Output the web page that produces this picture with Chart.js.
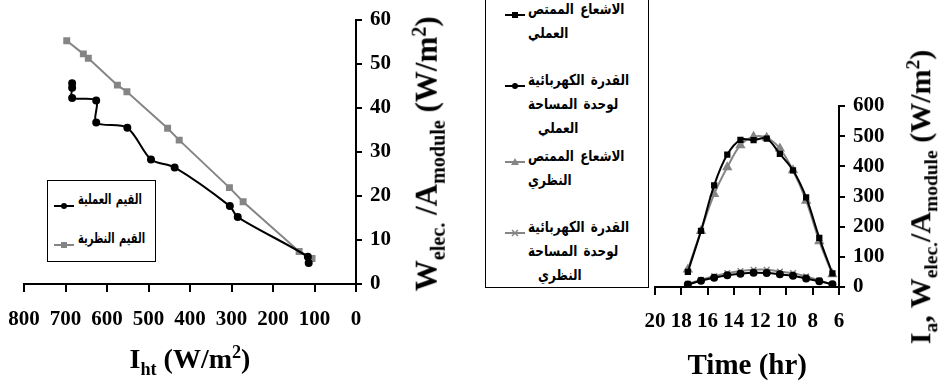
<!DOCTYPE html>
<html lang="ar">
<head>
<meta charset="UTF-8">
<title>Charts</title>
<script src="https://cdn.jsdelivr.net/npm/chart.js"></script>
<style>
    body { margin: 0; background: #fff; }
    #wrap { position: relative; width: 939px; height: 385px; overflow: hidden; background: #fff; }
    .box { position: absolute; }
    .title { position: absolute; font-family: "Liberation Serif", serif; font-weight: bold; color: #000; white-space: nowrap; }
    .title sub, .title sup { font-size: 65%; }
    .legend { position: absolute; border: 1px solid #000; background: #fff; }
    .leg-line { position: absolute; font-family: "DejaVu Sans", sans-serif; font-weight: bold; font-size: 12px;
                direction: rtl; white-space: nowrap; word-spacing: 2px; color: #000;
                transform: scaleY(1.25); transform-origin: left center; }
    #leg1 .leg-line { font-size: 11px; word-spacing: 1px; transform: scale(0.9, 1.35); }
    .leg-mark { position: absolute; }
</style>
</head>
<body>
<div id="wrap">
    <div class="box" style="left:0;top:0;width:470px;height:385px"><canvas id="grafico1"></canvas></div>
    <div class="box" style="left:470px;top:0;width:469px;height:385px"><canvas id="grafico2"></canvas></div>

    <div class="title" id="tx1" style="font-size:28px;">I<sub>ht</sub> (W/m<sup>2</sup>)</div>
    <div class="title" id="ty1" style="font-size:31px;">W<sub>elec.</sub> /A<sub>module</sub> (W/m<sup>2</sup>)</div>
    <div class="title" id="tx2" style="font-size:29px;">Time (hr)</div>
    <div class="title" id="ty2" style="font-size:30px;">I<sub>a</sub>, W<sub>elec.</sub>/A<sub>module</sub> (W/m<sup>2</sup>)</div>

    <div class="legend" id="leg1" style="left:47px;top:180px;width:107px;height:80px"></div>
    <div class="legend" id="leg2" style="left:485px;top:-5px;width:162px;height:291px"></div>
</div>

<script>
// left chart: power per module area vs absorbed radiation
var iExp = [684, 684, 684, 626, 626, 551, 494, 437, 304, 285, 116, 114];
var wExp = [45.6, 44.6, 42.3, 41.7, 36.7, 35.5, 28.3, 26.5, 17.7, 15.2, 6.2, 4.8];
var iTheo = [697, 657, 645, 575, 552, 454, 426, 305, 272, 137, 106];
var wTheo = [55.3, 52.3, 51.3, 45.2, 43.7, 35.4, 32.7, 21.9, 18.7, 7.4, 5.8];
var nomesEsq = ['القيم العملية', 'القيم النظرية'];

// right chart: radiation and power over the day
var horas = [17.5, 16.5, 15.5, 14.5, 13.5, 12.5, 11.5, 10.5, 9.5, 8.5, 7.5, 6.5];
var iaExp = [50, 186, 337, 439, 488, 487, 492, 441, 387, 297, 163, 45];
var iaTheo = [58, 186, 308, 397, 470, 498, 495, 459, 387, 286, 152, 42];
var wExpR = [8, 21, 31, 39, 44, 47, 46, 42, 37, 28, 19, 9];
var wTheoR = [10, 24, 36, 46, 53, 57, 57, 51, 46, 35, 22, 8];
var nomesDir = [
    ['الاشعاع الممتص', 'العملي'],
    ['القدرة الكهربائية', 'لوحدة المساحة', 'العملي'],
    ['الاشعاع الممتص', 'النظري'],
    ['القدرة الكهربائية', 'لوحدة المساحة', 'النظري']
];

var cinza = '#858585';

function pares(xs, ys) {
    return xs.map(function (x, i) { return { x: x, y: ys[i] }; });
}

var fonteTicks = { family: 'Liberation Serif', weight: 'bold', size: 21 };

function eixoX(min, max, passo, altura, pad) {
    return {
        type: 'linear', min: min, max: max, reverse: true,
        afterFit: function (s) { s.height = altura; s.paddingLeft = 0; s.paddingRight = 0; },
        ticks: { stepSize: passo, color: '#000', font: fonteTicks, padding: pad, maxRotation: 0, autoSkip: false },
        grid: { drawOnChartArea: false, drawTicks: true, tickLength: 8, color: '#000', lineWidth: 2 },
        border: { display: true, color: '#000', width: 2 }
    };
}

function eixoY(min, max, passo, largura) {
    return {
        type: 'linear', position: 'right', min: min, max: max,
        afterFit: function (s) { s.width = largura; s.paddingTop = 0; s.paddingBottom = 0; },
        ticks: { stepSize: passo, color: '#000', font: fonteTicks, padding: 8 },
        grid: { drawOnChartArea: false, drawTicks: true, tickLength: 6, color: '#000', lineWidth: 2 },
        border: { display: true, color: '#000', width: 2 }
    };
}

var base = {
    responsive: true,
    maintainAspectRatio: false,
    animation: false,
    plugins: { legend: { display: false }, tooltip: { enabled: false } }
};

// Gráfico esquerdo
var grafico1 = new Chart(document.getElementById('grafico1'), {
    type: 'scatter',
    data: {
        datasets: [
            {
                label: nomesEsq[0], data: pares(iExp, wExp), showLine: true, tension: 0.3,
                borderColor: '#000', backgroundColor: '#000', borderWidth: 2,
                pointStyle: 'circle', pointRadius: 3
            },
            {
                label: nomesEsq[1], data: pares(iTheo, wTheo), showLine: true, tension: 0,
                borderColor: cinza, backgroundColor: cinza, borderWidth: 2,
                pointStyle: 'rect', pointRadius: 3.5
            }
        ]
    },
    options: Object.assign({}, base, {
        layout: { padding: { left: 24, top: 20, right: 0, bottom: 0 } },
        scales: {
            x: eixoX(0, 800, 100, 101, 15),
            y: eixoY(0, 60, 10, 114)
        }
    })
});

// Gráfico direito
var grafico2 = new Chart(document.getElementById('grafico2'), {
    type: 'scatter',
    data: {
        datasets: [
            {
                label: nomesDir[0].join(' '), data: pares(horas, iaExp), showLine: true, tension: 0.35,
                borderColor: '#000', backgroundColor: '#000', borderWidth: 2,
                pointStyle: 'rect', pointRadius: 3
            },
            {
                label: nomesDir[1].join(' '), data: pares(horas, wExpR), showLine: true, tension: 0.35,
                borderColor: '#000', backgroundColor: '#000', borderWidth: 2,
                pointStyle: 'circle', pointRadius: 3
            },
            {
                label: nomesDir[2].join(' '), data: pares(horas, iaTheo), showLine: true, tension: 0.35,
                borderColor: cinza, backgroundColor: cinza, borderWidth: 2,
                pointStyle: 'triangle', pointRadius: 4
            },
            {
                label: nomesDir[3].join(' '), data: pares(horas, wTheoR), showLine: true, tension: 0.35,
                borderColor: cinza, backgroundColor: cinza, borderWidth: 2,
                pointStyle: 'crossRot', pointRadius: 4, pointBorderWidth: 1.5
            }
        ]
    },
    options: Object.assign({}, base, {
        layout: { padding: { left: 185, top: 106, right: 0, bottom: 0 } },
        scales: {
            x: eixoX(6, 20, 2, 98, 14),
            y: eixoY(0, 600, 100, 100)
        }
    })
});

// legend sample: short line with the series marker
function amostra(cor, estilo) {
    var m = '';
    if (estilo === 'circle') m = '<circle cx="10" cy="5" r="3" fill="' + cor + '"/>';
    if (estilo === 'rect') m = '<rect x="7" y="2" width="6" height="6" fill="' + cor + '"/>';
    if (estilo === 'triangle') m = '<polygon points="10,1 14,8 6,8" fill="' + cor + '"/>';
    if (estilo === 'crossRot') m = '<path d="M7 2 L13 8 M13 2 L7 8" stroke="' + cor + '" stroke-width="1.5"/>';
    return '<svg width="20" height="10"><line x1="0" y1="5" x2="20" y2="5" stroke="' + cor + '" stroke-width="2"/>' + m + '</svg>';
}

function montarLegenda(id, datasets, linhas, topos, caixaX, caixaY, marcaX, textoX) {
    var leg = document.getElementById(id);
    var html = '';
    datasets.forEach(function (ds, i) {
        var cor = ds.borderColor;
        html += '<div class="leg-mark" style="left:' + (marcaX - caixaX) + 'px;top:' + (topos[i] - caixaY - 5) + 'px">' + amostra(cor, ds.pointStyle) + '</div>';
        linhas[i].forEach(function (t, j) {
            var ind = (j === 2) ? 10 : 0;
            html += '<div class="leg-line" style="left:' + (textoX - caixaX + ind) + 'px;top:' + (topos[i] - caixaY - 9 + j * 24) + 'px">' + t + '</div>';
        });
    });
    leg.innerHTML = html;
}

montarLegenda('leg1', grafico1.data.datasets, nomesEsq.map(function (n) { return [n]; }), [201, 240], 47, 180, 53, 77);
montarLegenda('leg2', grafico2.data.datasets, nomesDir, [10, 81, 157, 228], 485, -5, 504, 527);

// axis titles
function posTitulo(id, cx, cy, rot) {
    var el = document.getElementById(id);
    var w = el.offsetWidth, h = el.offsetHeight;
    el.style.left = (cx - w / 2) + 'px';
    el.style.top = (cy - h / 2) + 'px';
    if (rot) el.style.transform = 'rotate(-90deg)';
}
posTitulo('tx1', 190, 361, false);
posTitulo('ty1', 428, 154, true);
posTitulo('tx2', 747, 364, false);
posTitulo('ty2', 922, 197, true);
</script>
</body>
</html>
